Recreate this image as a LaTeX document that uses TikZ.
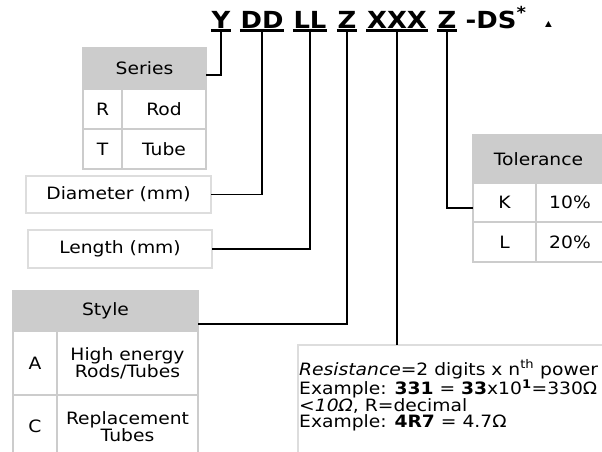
\documentclass[tikz,border=0pt]{standalone}
\usepackage{fontspec}
\setmainfont{DejaVu Sans}[FakeStretch=1.1]
\usepackage{tikz}
\usetikzlibrary{positioning}

\definecolor{tabgray}{HTML}{CCCCCC}
\definecolor{boxgray}{HTML}{DDDDDD}

\begin{document}
\begin{tikzpicture}[
    x=1pt, y=-1pt,
    cell/.style={
      draw=tabgray, line width=2.6pt, fill=white,
      outer sep=0pt, inner sep=0pt, align=center,
      font=\fontsize{17}{17}\selectfont, anchor=north west
    },
    head/.style={cell, fill=tabgray},
    frame/.style={
      draw=boxgray, line width=2pt, fill=white,
      outer sep=0pt, inner sep=0pt,
      font=\fontsize{17}{17}\selectfont, anchor=north west
    },
    code/.style={
      font=\bfseries\fontsize{23.5}{23.5}\selectfont,
      inner xsep=0.5pt, inner ysep=2.6pt, text depth=0pt, anchor=base
    },
    ul/.style={line width=2.8pt},
    link/.style={line width=1.4pt}
]

  \useasboundingbox (0,0) rectangle (602,451);
  \clip (0,0) rectangle (602,451);

  % Series table
  \node[head, minimum width=123, minimum height=41] (serHead) at (83,48) {Series};
  \node[cell, minimum width=39, minimum height=40, below=0pt of serHead.south west, anchor=north west] (serR) {R};
  \node[cell, minimum width=84, minimum height=40, right=0pt of serR.north east, anchor=north west] (serRod) {Rod};
  \node[cell, minimum width=39, minimum height=40, below=0pt of serR.south west, anchor=north west] (serT) {T};
  \node[cell, minimum width=84, minimum height=40, right=0pt of serT.north east, anchor=north west] (serTube) {Tube};

  % Diameter and length boxes
  \node[frame, minimum width=185, minimum height=37] (diam) at (26,176) {Diameter (mm)};
  \node[frame, minimum width=184, minimum height=38] (len) at (28,230) {Length (mm)};

  % Style table
  \node[head, minimum width=185, minimum height=40] (styHead) at (13,291) {Style};
  \node[cell, minimum width=44, minimum height=64, below=0pt of styHead.south west, anchor=north west] (styA) {A};
  \node[cell, minimum width=141, minimum height=64, right=0pt of styA.north east, anchor=north west] (styHigh) {High energy\\Rods/Tubes};
  \node[cell, minimum width=44, minimum height=63, below=0pt of styA.south west, anchor=north west] (styC) {C};
  \node[cell, minimum width=141, minimum height=63, right=0pt of styC.north east, anchor=north west] (styRepl) {Replacement\\Tubes};

  % Tolerance table
  \node[head, minimum width=131, minimum height=48] (tolHead) at (473,135) {Tolerance};
  \node[cell, minimum width=63, minimum height=39, below=0pt of tolHead.south west, anchor=north west] (tolK) {K};
  \node[cell, minimum width=68, minimum height=39, right=0pt of tolK.north east, anchor=north west] (tolTen) {10\%};
  \node[cell, minimum width=63, minimum height=40, below=0pt of tolK.south west, anchor=north west] (tolL) {L};
  \node[cell, minimum width=68, minimum height=40, right=0pt of tolL.north east, anchor=north west] (tolTwenty) {20\%};

  % Resistance box
  \node[frame, minimum width=400, minimum height=200] (res) at (298,345) {};
  \node[anchor=north west, inner sep=0pt, align=left,
        font=\fontsize{17}{16}\selectfont] (resText) at (299,359.5)
    {\textit{Resistance}=2 digits x n\textsuperscript{th} power\\
     Example: \textbf{331} = \textbf{33}x10\textsuperscript{\textbf{1}}=330Ω\\
     \textit{<10Ω}, R=decimal\\
     Example: \textbf{4R7} = 4.7Ω};

  % part number code
  \foreach \name/\txt/\x in {cY/Y/221, cD/DD/262, cL/LL/310, cZ/Z/347, cX/XXX/397, cT/Z/447}
  {
    \node[code] (\name) at (\x,28) {\txt};
    \draw[ul] (\name.south west) -- (\name.south east);
  }
  \node[code, anchor=base west] (cDS) at (465,28) {-DS\textsuperscript{*}};
  \node[anchor=base west, inner sep=0pt, font=\fontsize{8}{8}\selectfont] (tri) at (545,26) {▲};

  % connectors
  \draw[link] (cY.south) |- ([yshift=-6.5pt]serHead.east);
  \draw[link] (cD.south) |- (diam.east);
  \draw[link] (cL.south) |- (len.east);
  \draw[link] (cZ.south) |- ([yshift=-13pt]styHead.east);
  \draw[link] (cX.south) -- (cX.south |- res.north);
  \draw[link] (cT.south) |- ([yshift=-5.5pt]tolK.west);

\end{tikzpicture}
\end{document}
